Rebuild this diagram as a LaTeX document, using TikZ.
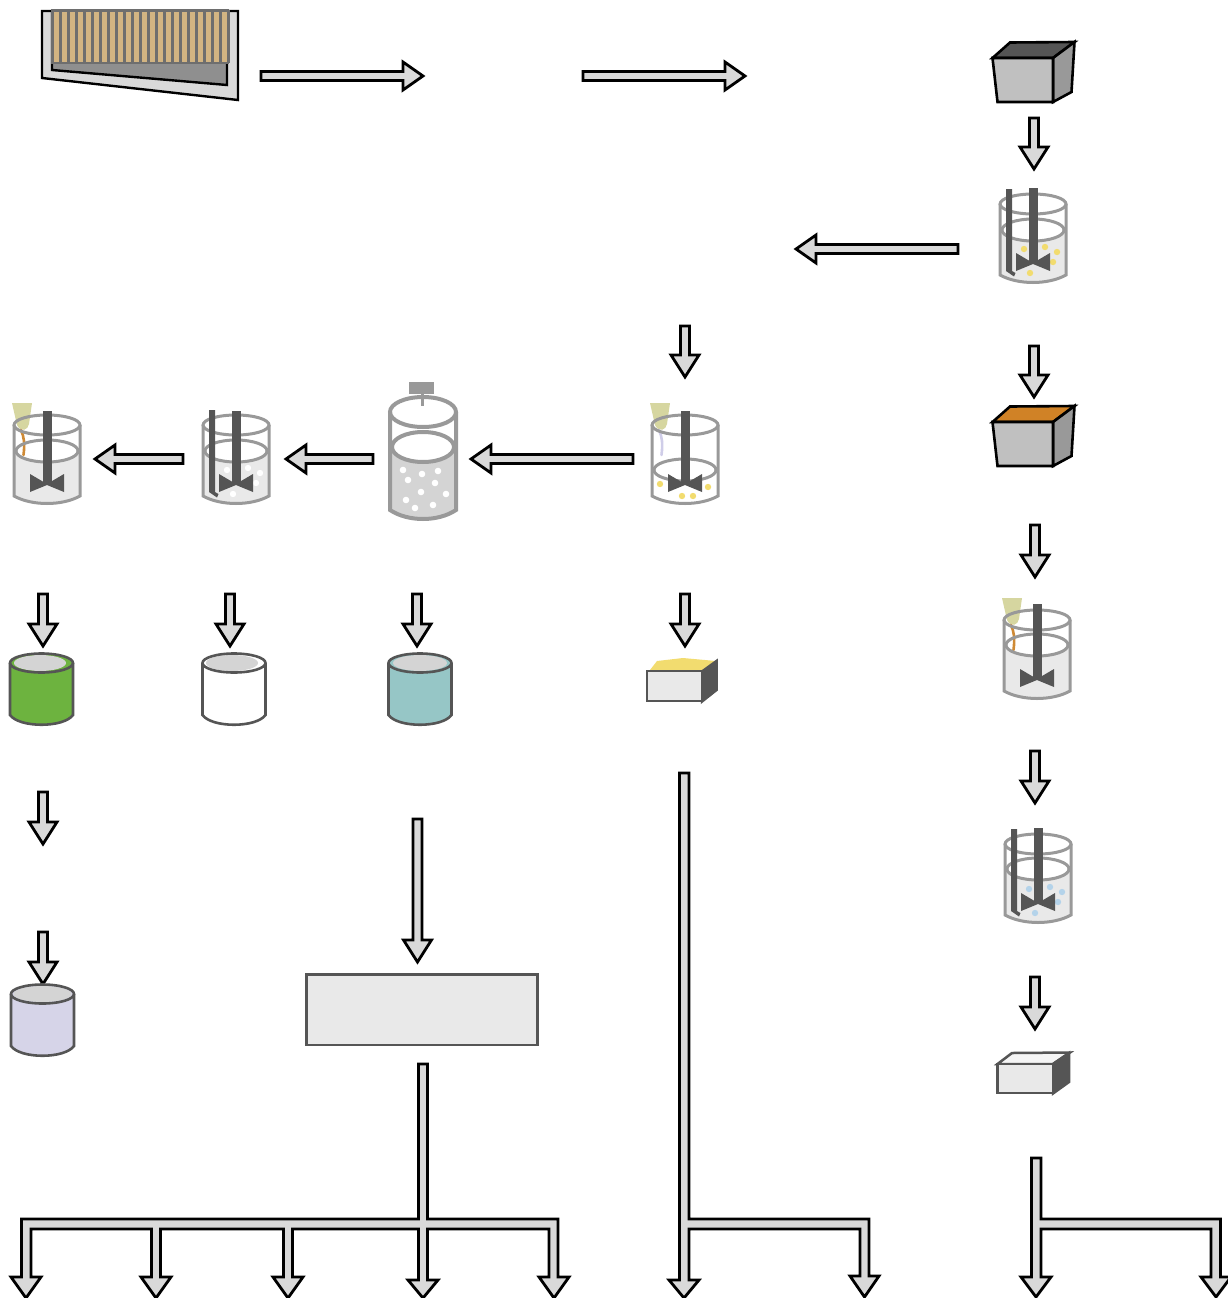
\documentclass[tikz,border=0pt]{standalone}
\definecolor{arrowfill}{HTML}{D9D9D9}
\definecolor{glass}{HTML}{999999}
\definecolor{steel}{HTML}{555555}
\definecolor{liquid}{HTML}{E9E9E9}
\definecolor{dotyellow}{HTML}{F2DC6F}
\definecolor{dotblue}{HTML}{B4D3EA}
\definecolor{pipettefill}{HTML}{D6D6A0}
\definecolor{stream}{HTML}{CF8A35}
\definecolor{streamviolet}{HTML}{CFCDE8}
\definecolor{tan}{HTML}{D2B482}
\definecolor{tancase}{HTML}{8F8F8F}
\definecolor{topgray}{HTML}{D4D4D4}
\definecolor{boxfront}{HTML}{C0C0C0}
\definecolor{boxorange}{HTML}{D08226}
\definecolor{cangreen}{HTML}{6DB33F}
\definecolor{canteal}{HTML}{96C6C6}
\definecolor{canviolet}{HTML}{D6D4E8}
\definecolor{gridbar}{HTML}{6E6E6E}
\tikzset{
  blockarrow/.style={draw=black,fill=arrowfill,line width=2.8pt,line join=miter,miter limit=10},
  glassline/.style={draw=glass,line width=3pt},
  boxline/.style={draw=black,line width=2.6pt,line join=miter},
  canline/.style={draw=steel,line width=2.6pt},
  paleline/.style={draw=steel,line width=2.5pt,line join=miter}
}
\newcommand{\arrD}[3]{\path[blockarrow] (#1-4.5,#2) -- (#1+4.5,#2) -- (#1+4.5,#3-22) -- (#1+14,#3-22) -- (#1,#3) -- (#1-14,#3-22) -- (#1-4.5,#3-22) -- cycle;}
\newcommand{\arrR}[3]{\path[blockarrow] (#2,#1-4.5) -- (#3-20,#1-4.5) -- (#3-20,#1-14) -- (#3,#1) -- (#3-20,#1+14) -- (#3-20,#1+4.5) -- (#2,#1+4.5) -- cycle;}
\newcommand{\arrL}[3]{\path[blockarrow] (#2,#1-4.5) -- (#3+20,#1-4.5) -- (#3+20,#1-14) -- (#3,#1) -- (#3+20,#1+14) -- (#3+20,#1+4.5) -- (#2,#1+4.5) -- cycle;}
\newcommand{\bkLiquid}[1]{%
  \fill[liquid] (-33,#1) -- (-33,71) .. controls (-15,81) and (15,81) .. (33,71) -- (33,#1) -- cycle;
  \fill[white] (0,#1) ellipse [x radius=31.5pt,y radius=11pt];}
\newcommand{\bkGlass}[1]{%
  \path[glassline] (0,#1) ellipse [x radius=31pt,y radius=11pt];
  \path[glassline] (0,0) ellipse [x radius=33pt,y radius=10pt];
  \path[glassline] (-33,0) -- (-33,71) .. controls (-15,81) and (15,81) .. (33,71) -- (33,0);}
\newcommand{\bkImpeller}[1]{%
  \fill[steel] (-4.5,#1) rectangle (4.5,60);
  \fill[steel] (-17,49) -- (0,59) -- (17,49) -- (17,67) -- (0,60) -- (-17,67) -- cycle;}
\newcommand{\bkBaffle}{%
  \fill[steel] (-27,-15) -- (-21,-15) -- (-21,67) -- (-17.5,69) -- (-19,72.5) -- (-27,67) -- cycle;}
\newcommand{\bkPipette}[1]{%
  \fill[pipettefill] (-35,-22) -- (-15,-22) -- (-18,-1) .. controls (-19,5) and (-26,8) .. (-30,0) -- cycle;
  \draw[#1,line width=2.6pt,line cap=round] (-26,5) .. controls (-23,12) and (-22,18) .. (-23.5,30);}
\newcommand{\bkDots}[1]{%
  \foreach \dx/\dy in {-9/45,12/43,24/48,20/58,-3/69}{\fill[#1] (\dx,\dy) circle [radius=3.2pt];}}
\newcommand{\can}[3]{%
  \path[fill=#1] (-31.5,0) -- (-31.5,52) .. controls (-22,65) and (22,65) .. (31.5,52) -- (31.5,0) -- cycle;
  \fill[#1] (0,0) ellipse [x radius=31.5pt,y radius=9.5pt];
  \fill[topgray] (#2,0) ellipse [x radius=#3pt,y radius=8pt];
  \path[canline] (-31.5,0) -- (-31.5,52) .. controls (-22,65) and (22,65) .. (31.5,52) -- (31.5,0);
  \path[canline] (0,0) ellipse [x radius=31.5pt,y radius=9.5pt];}
\newcommand{\grayBox}[2]{%
  \begin{scope}[shift={(0,#1)}]
  \path[boxline,fill=#2] (992.5,58) -- (1010,42.5) -- (1074.5,42) -- (1053,58) -- cycle;
  \path[boxline,fill=glass] (1053,58) -- (1074.5,42) -- (1071.5,92) -- (1053,102) -- cycle;
  \path[boxline,fill=boxfront] (992.5,58) -- (1053,58) -- (1053,102) -- (997.5,102) -- cycle;
  \end{scope}}
\begin{document}
\begin{tikzpicture}[x=1pt,y=-1pt]
\useasboundingbox (0,0) rectangle (1227,1298);
% settling tank
\path[draw=black,fill=arrowfill,line width=2.4pt] (42,11) -- (238,11) -- (238,100) -- (42,78) -- cycle;
\fill[tancase] (52,60) -- (227,60) -- (227,85) -- (52,70) -- cycle;
\draw[black,line width=2.4pt] (52,11) -- (52,70) -- (227,85) -- (227,64);
\fill[tan] (52,10) rectangle (228,63);
\foreach \i in {0,...,22}{\fill[gridbar] (51+\i*8,10) rectangle ++(2.5,53);}
\draw[gridbar,line width=2.2pt] (52,10.5) rectangle (228,63);
% top row arrows
\arrR{76}{261}{423}
\arrR{76}{583}{745}
\grayBox{0}{steel}
\arrD{1034}{118}{169}
% beaker A
\begin{scope}[shift={(1033,204)}]
\bkLiquid{26}\bkGlass{26}\bkDots{dotyellow}\bkBaffle\bkImpeller{-16}
\end{scope}
\arrL{249}{958}{796}
\arrD{1034}{346}{397}
\grayBox{364}{boxorange}
\arrD{1035}{525}{577}
% beaker E
\begin{scope}[shift={(1037,620)}]
\bkLiquid{25}\bkPipette{stream}\bkGlass{25}\bkImpeller{-16}
\end{scope}
\arrD{1035}{751}{803}
% beaker F
\begin{scope}[shift={(1038,844)}]
\bkLiquid{25}\bkGlass{25}\bkDots{dotblue}\bkBaffle\bkImpeller{-16}
\end{scope}
\arrD{1035}{977}{1029}
% white box
\path[paleline,fill=black!4] (997.5,1064) -- (1012,1053) -- (1070,1052.5) -- (1053,1064) -- cycle;
\path[paleline,fill=steel] (1053,1064) -- (1069,1053) -- (1069,1082) -- (1053,1093.5) -- cycle;
\path[paleline,fill=liquid] (997.5,1064) rectangle (1053,1093);
% second column
\arrD{685}{326}{377}
% beaker B
\begin{scope}[shift={(685,425)}]
\bkPipette{streamviolet}\bkGlass{45}
\foreach \dx/\dy in {-25/59,-3/71,8/71,23/62}{\fill[dotyellow] (\dx,\dy) circle [radius=3.2pt];}
\bkImpeller{-14}
\end{scope}
\arrL{459}{633}{471}
% tall vessel
\begin{scope}[shift={(423,412)}]
\fill[topgray] (-33,35) -- (-33,98) .. controls (-15,110) and (15,110) .. (33,98) -- (33,35) -- cycle;
\fill[white] (0,35) ellipse [x radius=31pt,y radius=15pt];
\path[draw=glass,line width=4pt] (0,35) ellipse [x radius=31pt,y radius=15pt];
\path[draw=glass,line width=4pt] (0,0) ellipse [x radius=33pt,y radius=15pt];
\path[draw=glass,line width=4pt] (-33,0) -- (-33,98) .. controls (-15,110) and (15,110) .. (33,98) -- (33,0);
\fill[glass] (-14,-30) rectangle (11,-18);
\fill[glass] (-2.2,-18) rectangle (0.8,-6);
\foreach \dx/\dy in {-20/58,-1/62,15/59,-15/68,12/71,-2/80,23/82,-17/88,-8/96,10/93}{\fill[white] (\dx,\dy) circle [radius=3.3pt];}
\end{scope}
\arrL{459}{373}{286}
% beaker C
\begin{scope}[shift={(236,425)}]
\bkLiquid{26}\bkGlass{26}\bkDots{white}\bkBaffle\bkImpeller{-14}
\end{scope}
\arrL{459}{183}{95}
% beaker D
\begin{scope}[shift={(47,425)}]
\bkLiquid{26}\bkPipette{stream}\bkGlass{26}\bkImpeller{-14}
\end{scope}
% arrows to cans
\arrD{43}{594}{646}
\arrD{230}{594}{646}
\arrD{417}{594}{646}
\arrD{685}{594}{646}
% cans
\begin{scope}[shift={(41.5,663)}]\can{cangreen}{-1.5}{26}\end{scope}
\begin{scope}[shift={(234,663)}]\can{white}{-2}{26}\end{scope}
\begin{scope}[shift={(420,663)}]\can{canteal}{0}{27}\end{scope}
% yellow box
\fill[dotyellow] (650,670) -- (657,661) -- (683,658) -- (716,661) -- (704,671) -- cycle;
\path[paleline,draw=steel,fill=steel] (702,671.5) -- (716.5,661) -- (716.5,690) -- (702,701.5) -- cycle;
\path[paleline,fill=liquid] (647,671) rectangle (702,701);
% lower left
\arrD{43}{792}{844}
\arrD{43}{932}{984}
\begin{scope}[shift={(42.5,994)}]\can{canviolet}{0}{29}\end{scope}
\arrD{417.5}{819}{962}
\node[name=mixblock,draw=steel,fill=liquid,line width=2.5pt,minimum width=231pt,minimum height=70.5pt,inner sep=0pt,anchor=north west] at (305,973) {};
% branches
\path[blockarrow] (418.5,1064) -- (427.5,1064) -- (427.5,1219) -- (558,1219) -- (558,1277) -- (569,1277) -- (554,1298) -- (539,1277) -- (549,1277) -- (549,1229) -- (427.5,1229) -- (427.5,1280) -- (438,1280) -- (423,1298) -- (408,1280) -- (418.5,1280) -- (418.5,1229) -- (292.5,1229) -- (292.5,1277) -- (303,1277) -- (288,1298) -- (273,1277) -- (283.5,1277) -- (283.5,1229) -- (160.5,1229) -- (160.5,1277) -- (171,1277) -- (156,1298) -- (141,1277) -- (151.5,1277) -- (151.5,1229) -- (31,1229) -- (31,1277) -- (41,1277) -- (26,1298) -- (11,1277) -- (21.5,1277) -- (21.5,1219) -- (418.5,1219) -- cycle;
\path[blockarrow] (679.5,773) -- (689,773) -- (689,1219) -- (869,1219) -- (869,1276) -- (879,1276) -- (864.5,1297) -- (850,1276) -- (860,1276) -- (860,1229) -- (689,1229) -- (689,1280) -- (699,1280) -- (684,1298) -- (669,1280) -- (679.5,1280) -- cycle;
\path[blockarrow] (1031.5,1158) -- (1041,1158) -- (1041,1219) -- (1220.5,1219) -- (1220.5,1277) -- (1231,1277) -- (1216,1297) -- (1201,1277) -- (1211,1277) -- (1211,1229) -- (1041,1229) -- (1041,1277) -- (1051,1277) -- (1036,1297) -- (1021,1277) -- (1031.5,1277) -- cycle;
\end{tikzpicture}
\end{document}
